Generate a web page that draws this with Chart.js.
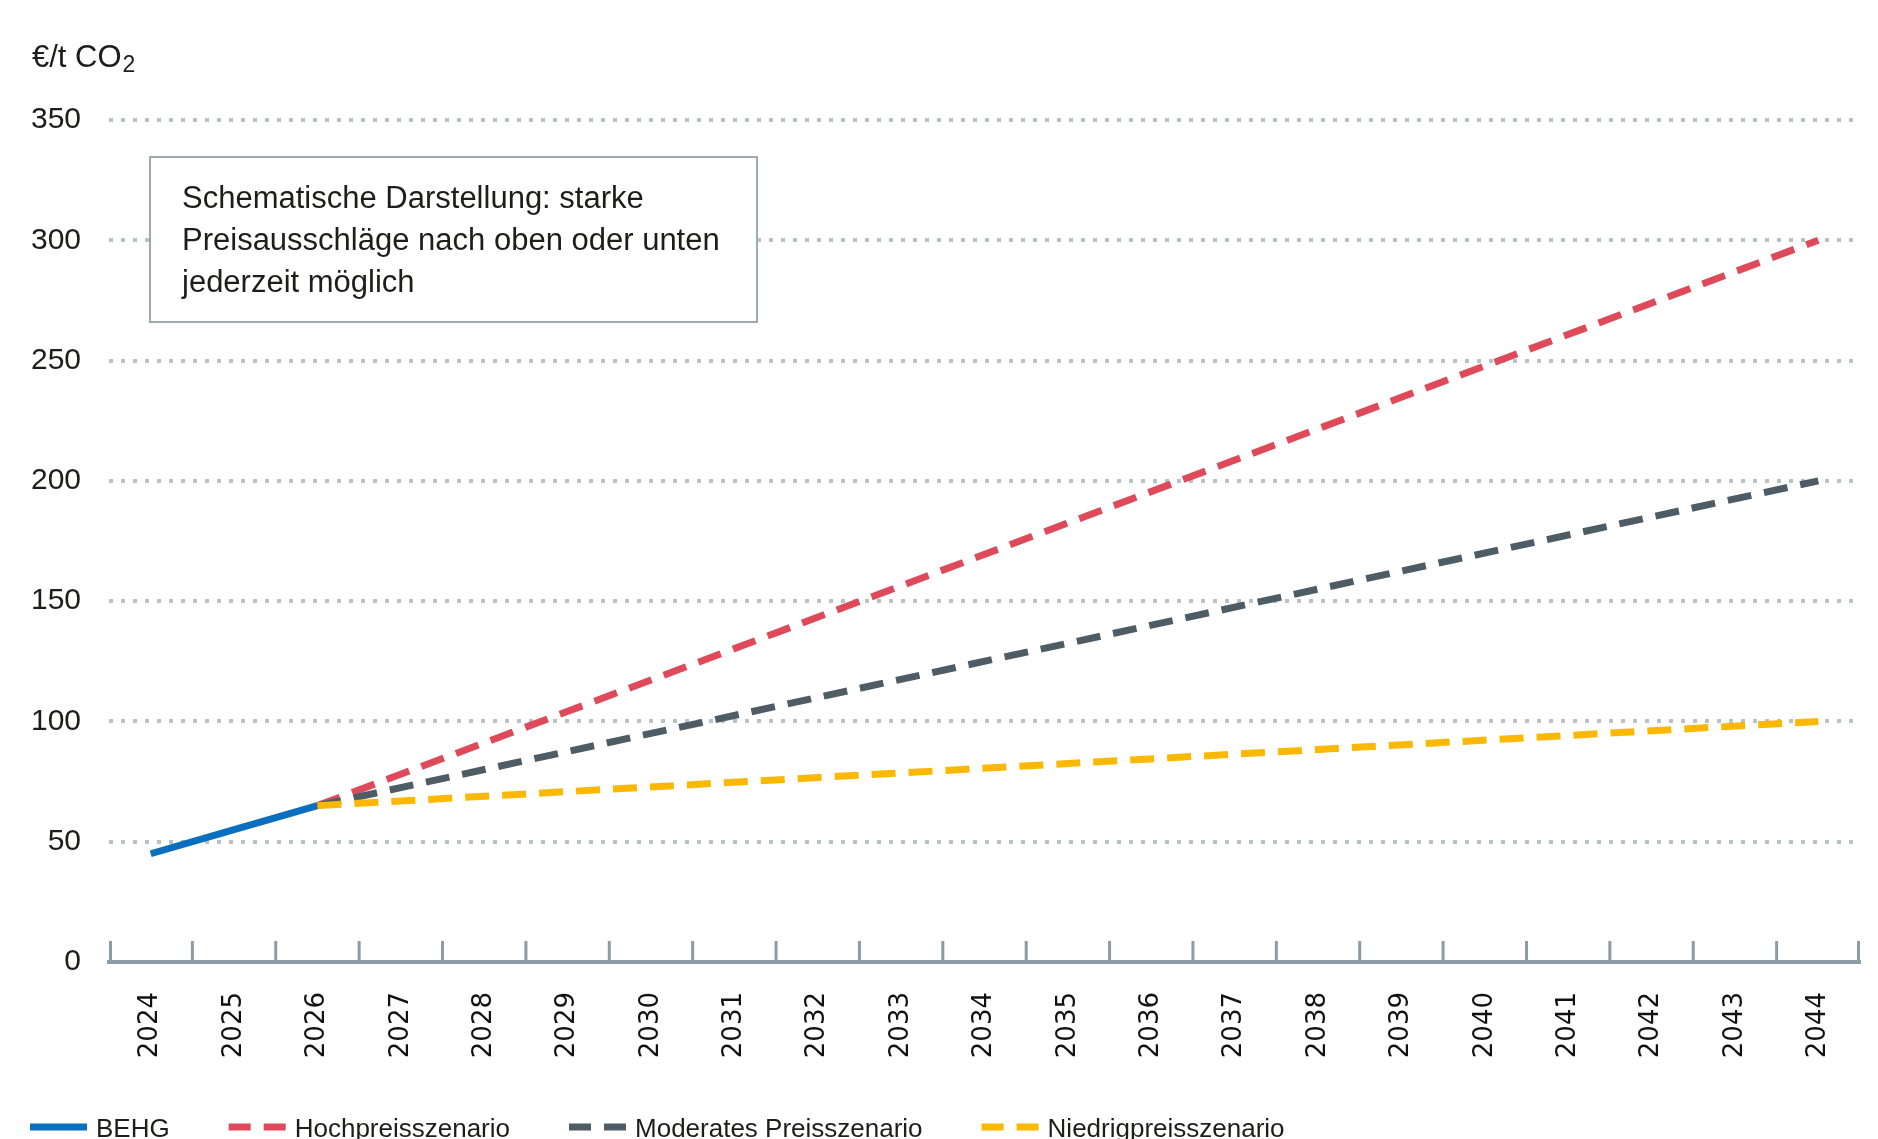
<!DOCTYPE html>
<html>
<head>
<meta charset="utf-8">
<script src="https://cdn.jsdelivr.net/npm/chart.js@4"></script>
<style>
html,body{margin:0;padding:0;background:#fff;}
#wrap{position:relative;width:1878px;height:1139px;overflow:hidden;}
</style>
</head>
<body>
<div id="wrap"><canvas id="c"></canvas></div>
<script>
// ---- data ----
const years = ['2024','2025','2026','2027','2028','2029','2030','2031','2032','2033','2034','2035','2036','2037','2038','2039','2040','2041','2042','2043','2044'];
const behg      = [45, 55, 65, null, null, null, null, null, null, null, null, null, null, null, null, null, null, null, null, null, null];
const hochpreis = [null, null, 65, null, null, null, null, null, null, null, null, null, null, null, null, null, null, null, null, null, 300];
const moderat   = [null, null, 65, null, null, null, null, null, null, null, null, null, null, null, null, null, null, null, null, null, 200];
const niedrig   = [null, null, 65, null, null, null, null, null, null, null, null, null, null, null, null, null, null, null, null, null, 100];
const yTicks = [0, 50, 100, 150, 200, 250, 300, 350];
const seriesNames = ['BEHG', 'Hochpreisszenario', 'Moderates Preisszenario', 'Niedrigpreisszenario'];
const unitMain = '€/t CO';
const unitSub = '2';
const noteLines = ['Schematische Darstellung: starke', 'Preisausschläge nach oben oder unten', 'jederzeit möglich'];

const COLORS = ['#0a6fbd', '#df4a5a', '#4e5c66', '#fbb800'];
const DASH = [24, 13];
const TXT = '#1d1d1b';
const SANS = '"Liberation Sans", Arial, sans-serif';

const overlay = {
  id: 'overlay',
  beforeDatasetsDraw(chart) {
    const ctx = chart.ctx;
    ctx.save();
    // note box
    ctx.fillStyle = '#fff';
    ctx.fillRect(150, 157, 607, 165);
    ctx.strokeStyle = '#9fa9b0';
    ctx.lineWidth = 2;
    ctx.strokeRect(150, 157, 607, 165);
    ctx.fillStyle = TXT;
    ctx.font = '31px ' + SANS;
    ctx.textBaseline = 'middle';
    ctx.textAlign = 'left';
    noteLines.forEach((l, i) => ctx.fillText(l, 182, 199 + i * 42));
    ctx.restore();
  },
  afterDraw(chart) {
    const ctx = chart.ctx;
    const xs = chart.scales.x;
    const bottom = chart.chartArea.bottom;
    ctx.save();
    // inward tick marks at category boundaries
    ctx.strokeStyle = '#8d9ba5';
    ctx.lineWidth = 3;
    const n = years.length;
    const bounds = [];
    for (let i = 0; i <= n; i++) {
      let px;
      if (i === 0) px = xs.left + 1.5;
      else if (i === n) px = xs.right - 1.5;
      else px = (xs.getPixelForValue(i - 1) + xs.getPixelForValue(i)) / 2;
      bounds.push(px);
    }
    bounds.forEach(px => {
      ctx.beginPath();
      ctx.moveTo(px, bottom);
      ctx.lineTo(px, bottom - 21);
      ctx.stroke();
    });
    // unit label
    ctx.fillStyle = TXT;
    ctx.font = '31px ' + SANS;
    ctx.textBaseline = 'alphabetic';
    ctx.textAlign = 'left';
    ctx.fillText(unitMain, 32, 67);
    const w = ctx.measureText(unitMain).width;
    ctx.font = '23px ' + SANS;
    ctx.fillText(unitSub, 32 + w + 1, 72);
    // legend
    ctx.font = '26px ' + SANS;
    let x = 30;
    const ly = 1127;
    chart.data.datasets.forEach((ds, i) => {
      ctx.strokeStyle = ds.borderColor;
      ctx.lineWidth = 7;
      ctx.lineCap = 'butt';
      ctx.beginPath();
      if (i === 0) {
        ctx.moveTo(x, ly); ctx.lineTo(x + 57, ly); ctx.stroke();
      } else {
        ctx.moveTo(x, ly); ctx.lineTo(x + 22, ly);
        ctx.moveTo(x + 35, ly); ctx.lineTo(x + 57, ly);
        ctx.stroke();
      }
      ctx.fillStyle = TXT;
      ctx.textBaseline = 'alphabetic';
      ctx.fillText(ds.label, x + 66, 1137);
      x += 66 + ctx.measureText(ds.label).width + 59;
    });
    ctx.restore();
  }
};

function ds(label, data, color, order, dashed) {
  return {
    label, data, borderColor: color, backgroundColor: color,
    borderWidth: 7, borderDash: dashed ? DASH : [], borderCapStyle: 'butt',
    pointRadius: 0, pointHoverRadius: 0, spanGaps: true, tension: 0, order, fill: false
  };
}

new Chart(document.getElementById('c'), {
  type: 'line',
  data: {
    labels: years,
    datasets: [
      ds(seriesNames[0], behg, COLORS[0], 4, false),
      ds(seriesNames[1], hochpreis, COLORS[1], 3, true),
      ds(seriesNames[2], moderat, COLORS[2], 2, true),
      ds(seriesNames[3], niedrig, COLORS[3], 1, true)
    ]
  },
  options: {
    responsive: true,
    maintainAspectRatio: false,
    devicePixelRatio: 1,
    animation: false,
    events: [],
    layout: { padding: { top: 120, right: 18, left: 0, bottom: 0 } },
    plugins: { legend: { display: false }, tooltip: { enabled: false }, title: { display: false } },
    scales: {
      x: {
        type: 'category',
        offset: true,
        grid: { display: false, drawTicks: false, offset: true },
        border: { display: true, color: '#8d9ba5', width: 4 },
        ticks: {
          font: { family: '"DejaVu Sans", sans-serif', size: 26 },
          color: '#111', minRotation: 90, maxRotation: 90, autoSkip: false, padding: 30
        },
        afterFit(s) { s.height = 1139 - 962; s.paddingRight = 0; s.paddingLeft = 0; }
      },
      y: {
        min: 0, max: 350,
        afterBuildTicks(s) { s.ticks = yTicks.map(v => ({ value: v })); },
        grid: {
          color: c => (c.tick && c.tick.value === 0) ? 'rgba(0,0,0,0)' : '#b7c1c8',
          lineWidth: 4, drawTicks: false
        },
        border: { display: false, dash: [4, 8] },
        ticks: { font: { family: SANS, size: 30 }, color: TXT, padding: 28 },
        afterFit(s) { s.width = 109; }
      }
    }
  },
  plugins: [overlay]
});
</script>
</body>
</html>
